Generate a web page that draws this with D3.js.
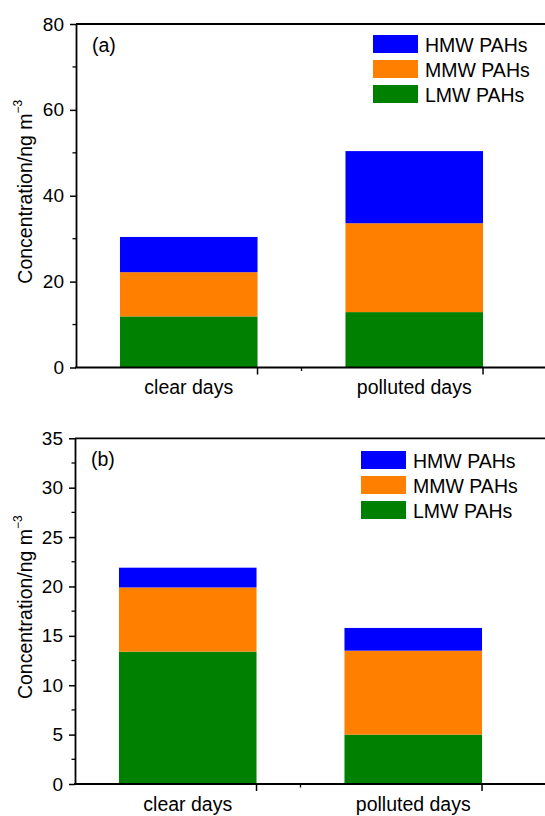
<!DOCTYPE html>
<html>
<head>
<meta charset="utf-8">
<script src="https://cdn.jsdelivr.net/npm/d3@7"></script>
<style>
	body { margin: 0; background: #fff; }
	svg { display: block; font-family: 'Liberation Sans', Arial, sans-serif; }
</style>
</head>
<body>
<svg id="main-vis" width="545" height="816"></svg>
<script>
// DATA
const categories = ['clear days', 'polluted days']
const seriesNames = ['LMW PAHs', 'MMW PAHs', 'HMW PAHs']
const seriesColors = ['#008000', '#ff8000', '#0000ff']

// PANEL (a)
const lmwA = [11.9, 12.9]
const mmwA = [10.3, 20.7]
const hmwA = [8.2, 16.8]
const yTicksA = [0, 20, 40, 60, 80]

// PANEL (b)
const lmwB = [13.4, 5.0]
const mmwB = [6.5, 8.5]
const hmwB = [2.0, 2.3]
const yTicksB = [0, 5, 10, 15, 20, 25, 30, 35]

const svg = d3.select('svg#main-vis')

function drawPanel ({ series, ticks, tag, top, bottom, left, right, legendX, legendY }) {
	const rows = categories.map((c, i) => {
		const row = { cat: c }
		seriesNames.forEach((s, j) => row[s] = series[j][i])
		return row
	})
	const stacked = d3.stack().keys(seriesNames)(rows)

	const x = d3.scaleBand()
	.domain(categories)
	.range([left, left + 451])
	.paddingInner(0.39)
	.paddingOuter(0.195)

	const ymax = ticks[ticks.length - 1]
	const y = d3.scaleLinear().domain([0, ymax]).range([bottom, top])
	const step = ticks[1] - ticks[0]
	const minor = d3.range(step / 2, ymax, step)

	const g = svg.append('g')

	// BARS
	g.selectAll('g.layer')
	.data(stacked)
	.join('g')
	.attr('class', 'layer')
	.attr('fill', (d, i) => seriesColors[i])
	.selectAll('rect')
	.data(d => d)
	.join('rect')
	.attr('x', d => x(d.data.cat))
	.attr('width', x.bandwidth())
	.attr('y', d => y(d[1]))
	.attr('height', d => y(d[0]) - y(d[1]))

	// Y AXIS
	const yAxis = g.append('g')
	.attr('transform', `translate(${left},0)`)
	.call(d3.axisLeft(y).tickValues(ticks).tickSize(6).tickPadding(6).tickSizeOuter(0))
	yAxis.selectAll('text').attr('font-size', 19).attr('fill', '#000').attr('font-family', "'Liberation Sans', Arial, sans-serif")
	yAxis.select('.domain').attr('stroke-width', 1.8)
	yAxis.selectAll('.tick line').attr('stroke-width', 1.5)
	g.append('g')
	.selectAll('line')
	.data(minor)
	.join('line')
	.attr('x1', left - 3.5).attr('x2', left)
	.attr('y1', d => y(d)).attr('y2', d => y(d))
	.attr('stroke', '#000').attr('stroke-width', 1.3)

	// X AXIS
	const xAxis = g.append('g')
	.attr('transform', `translate(0,${bottom})`)
	.call(d3.axisBottom(x).tickSize(7).tickPadding(6).tickSizeOuter(0))
	xAxis.selectAll('.tick line').attr('transform', `translate(${x.bandwidth() / 2},0)`).attr('stroke-width', 1.5)
	xAxis.selectAll('text').attr('font-size', 19.5).attr('fill', '#000').attr('font-family', "'Liberation Sans', Arial, sans-serif")
	xAxis.select('.domain').remove()
	g.append('line')
	.attr('x1', left - 1).attr('x2', right)
	.attr('y1', bottom).attr('y2', bottom)
	.attr('stroke', '#000').attr('stroke-width', 1.8)
	// MINOR TICK BETWEEN CATEGORIES
	const mid = (x(categories[0]) + x(categories[1]) + x.bandwidth()) / 2
	g.append('line')
	.attr('x1', mid).attr('x2', mid)
	.attr('y1', bottom).attr('y2', bottom + 3.5)
	.attr('stroke', '#000').attr('stroke-width', 1.3)

	// TOP FRAME
	g.append('line')
	.attr('x1', left).attr('x2', right)
	.attr('y1', top).attr('y2', top)
	.attr('stroke', '#000').attr('stroke-width', 1.8)

	// PANEL TAG
	g.append('text')
	.attr('x', left + 16).attr('y', top + 28)
	.attr('font-size', 19.5)
	.text(tag)

	// Y LABEL
	const label = g.append('text')
	.attr('transform', `translate(32,${(top + bottom) / 2 - 4}) rotate(-90)`)
	.attr('text-anchor', 'middle')
	.attr('font-size', 19.5)
	label.append('tspan').text('Concentration/ng m')
	label.append('tspan').attr('dy', -10).attr('font-size', 12).text('\u22123')

	// LEGEND
	const legend = g.append('g')
	.selectAll('g')
	.data(seriesNames.slice().reverse())
	.join('g')
	.attr('transform', (d, i) => `translate(${legendX},${legendY + i * 25})`)
	legend.append('rect')
	.attr('width', 45).attr('height', 18)
	.attr('fill', d => seriesColors[seriesNames.indexOf(d)])
	legend.append('text')
	.attr('x', 52).attr('y', 17)
	.attr('font-size', 19.5)
	.text(d => d)
}

drawPanel({ series: [lmwA, mmwA, hmwA], ticks: yTicksA, tag: '(a)', top: 24, bottom: 367.5, left: 76, right: 548, legendX: 373, legendY: 35 })
drawPanel({ series: [lmwB, mmwB, hmwB], ticks: yTicksB, tag: '(b)', top: 438.3, bottom: 784, left: 75, right: 548, legendX: 361, legendY: 451 })
</script>
</body>
</html>
